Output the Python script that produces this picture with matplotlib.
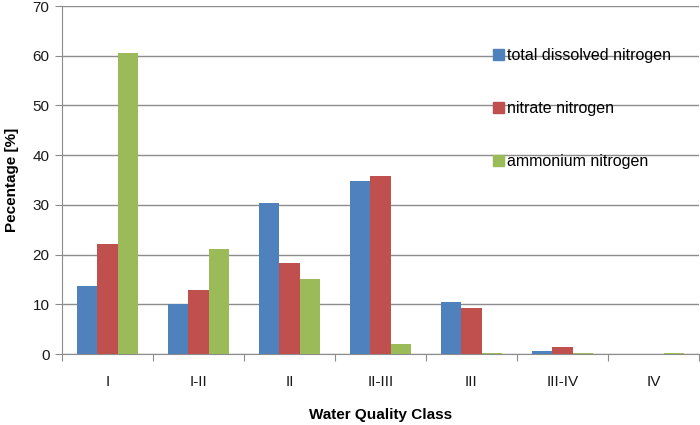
import matplotlib
matplotlib.use("Agg")
import matplotlib.pyplot as plt
import numpy as np
from matplotlib.patches import Patch

plt.rcParams['font.family'] = ['Liberation Sans', 'DejaVu Sans']

categories = ["I", "I-II", "II", "II-III", "III", "III-IV", "IV"]
series_names = ["total dissolved nitrogen", "nitrate nitrogen", "ammonium nitrogen"]
total_dissolved = [13.6, 10.0, 30.4, 34.8, 10.4, 0.7, 0.0]
nitrate = [22.2, 12.9, 18.3, 35.9, 9.3, 1.4, 0.0]
ammonium = [60.6, 21.1, 15.1, 2.1, 0.3, 0.3, 0.3]
colors = ["#4F81BD", "#C0504D", "#9BBB59"]
yticks = [0, 10, 20, 30, 40, 50, 60, 70]

fig = plt.figure(figsize=(7, 4.25), dpi=100)
ax = fig.add_axes([62/700, 71/425, 637/700, 348/425])

x = np.arange(len(categories))
w = 0.22
for i, (vals, c) in enumerate(zip([total_dissolved, nitrate, ammonium], colors)):
    ax.bar(x + (i - 1) * w, vals, width=w, color=c, zorder=3, linewidth=0)

ax.set_xlim(-0.5, len(categories) - 0.5)
ax.set_ylim(0, 70)
ax.set_yticks(yticks)
ax.yaxis.grid(True, color="#8c8c8c", linewidth=1, zorder=0)
ax.set_xticks(np.arange(-0.5, len(categories)), labels=[""] * (len(categories) + 1))
ax.set_xticks(x, labels=categories, minor=True)
ax.tick_params(axis='x', which='major', length=5, color="#8c8c8c", direction='out')
ax.tick_params(axis='x', which='minor', length=0, pad=15, labelsize=11, labelcolor="#1a1a1a")
ax.tick_params(axis='y', length=5, color="#8c8c8c", labelsize=11, labelcolor="#1a1a1a", pad=4)
for s in ["top", "right"]:
    ax.spines[s].set_visible(False)
ax.spines["left"].set_color("#8c8c8c")
ax.spines["bottom"].set_color("#8c8c8c")

ax.set_ylabel("Pecentage [%]", fontsize=11, fontweight='bold', labelpad=10)
ax.set_xlabel("Water Quality Class", fontsize=11, fontweight='bold', labelpad=14)

handles = [Patch(color=c) for c in colors]
fig.legend(handles, series_names, loc='upper left', bbox_to_anchor=(479/700, 1 - 34/425),
           frameon=False, fontsize=11.5, handlelength=0.65, handleheight=0.65,
           handletextpad=0.2, labelspacing=2.375)

fig.savefig("out.png", dpi=100)
